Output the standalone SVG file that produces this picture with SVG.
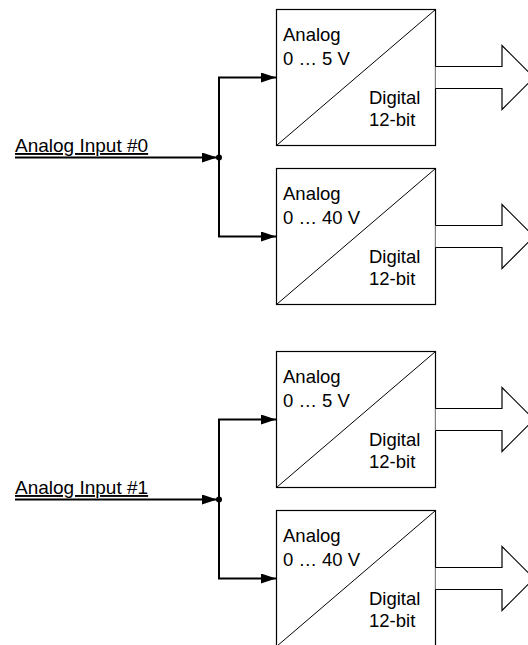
<svg xmlns="http://www.w3.org/2000/svg" width="528" height="645" viewBox="0 0 528 645">
<style>
  .box{fill:#fff;stroke:#000;stroke-width:1.2}
  .diag{stroke:#000;stroke-width:1;fill:none}
  .out{fill:#fff;stroke:#000;stroke-width:1.2}
  .t{font-family:"Liberation Sans",Arial,sans-serif;font-size:18.5px;fill:#000}
  .lbl{font-family:"Liberation Sans",Arial,sans-serif;font-size:19px;fill:#000;text-decoration:underline}
  .wire{fill:none;stroke:#000;stroke-width:2}
</style>
<defs>
  <marker id="ah" markerUnits="userSpaceOnUse" markerWidth="16" markerHeight="10" refX="15" refY="5" orient="auto">
    <path d="M0,0 L15,5 L0,10 z" fill="#000"/>
  </marker>
  <g id="adc-shape">
    <rect class="box" x="0" y="0" width="159" height="136"/>
    <line class="diag" x1="0" y1="136" x2="159" y2="0"/>
    <path class="out" d="M159,57 H225.5 V36 L257.5,68 L225.5,100 V79 H159"/>
  </g>
</defs>

<g id="connectors">
  <path class="wire" d="M15,157.5 H217" marker-end="url(#ah)"/>
  <path class="wire" d="M219,157.5 V77.5 H276" marker-end="url(#ah)"/>
  <path class="wire" d="M219,157.5 V236.5 H276" marker-end="url(#ah)"/>
  <circle cx="219" cy="157.5" r="3" fill="#000"/>
  <path class="wire" d="M15,499.5 H217" marker-end="url(#ah)"/>
  <path class="wire" d="M219,499.5 V419.5 H276" marker-end="url(#ah)"/>
  <path class="wire" d="M219,499.5 V578.5 H276" marker-end="url(#ah)"/>
  <circle cx="219" cy="499.5" r="3" fill="#000"/>
</g>

<g id="input0"><text class="lbl" x="15" y="152">Analog Input #0</text></g>
<g id="input1"><text class="lbl" x="15" y="494">Analog Input #1</text></g>

<g id="adc0a" transform="translate(276.5,9.5)">
  <use href="#adc-shape"/>
  <text class="t" x="6.5" y="31.5">Analog</text>
  <text class="t" x="6.5" y="55">0 … 5 V</text>
  <text class="t" x="92.5" y="94">Digital</text>
  <text class="t" x="92.5" y="116.5">12-bit</text>
</g>
<g id="adc0b" transform="translate(276.5,168.5)">
  <use href="#adc-shape"/>
  <text class="t" x="6.5" y="31.5">Analog</text>
  <text class="t" x="6.5" y="55">0 … 40 V</text>
  <text class="t" x="92.5" y="94">Digital</text>
  <text class="t" x="92.5" y="116.5">12-bit</text>
</g>
<g id="adc1a" transform="translate(276.5,351.5)">
  <use href="#adc-shape"/>
  <text class="t" x="6.5" y="31.5">Analog</text>
  <text class="t" x="6.5" y="55">0 … 5 V</text>
  <text class="t" x="92.5" y="94">Digital</text>
  <text class="t" x="92.5" y="116.5">12-bit</text>
</g>
<g id="adc1b" transform="translate(276.5,510.5)">
  <use href="#adc-shape"/>
  <text class="t" x="6.5" y="31.5">Analog</text>
  <text class="t" x="6.5" y="55">0 … 40 V</text>
  <text class="t" x="92.5" y="94">Digital</text>
  <text class="t" x="92.5" y="116.5">12-bit</text>
</g>
</svg>
